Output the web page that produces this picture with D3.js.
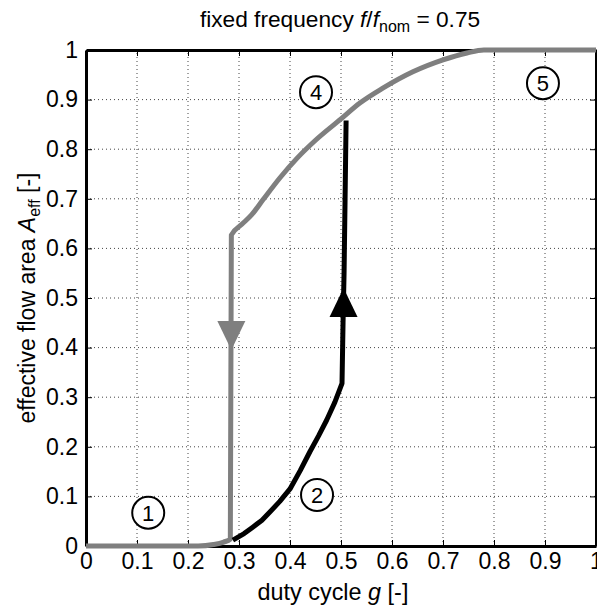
<!DOCTYPE html>
<html><head><meta charset="utf-8">
<script src="https://cdn.jsdelivr.net/npm/d3@7"></script>
<style>body{margin:0;background:#fff}svg{display:block}text{font-family:"Liberation Sans",Arial,sans-serif}</style>
</head><body>
<script>
const xTicks=[0,0.1,0.2,0.3,0.4,0.5,0.6,0.7,0.8,0.9,1];
const yTicks=[0,0.1,0.2,0.3,0.4,0.5,0.6,0.7,0.8,0.9,1];
const closingCurve=[[0,0],[0.22,0],[0.25,0.003],[0.27,0.008],[0.283,0.014],[0.285,0.627],[0.305,0.648],[0.325,0.668],[0.347,0.698],[0.38,0.742],[0.414,0.782],[0.45,0.818],[0.5,0.861],[0.537,0.893],[0.582,0.923],[0.641,0.956],[0.7,0.98],[0.747,0.994],[0.78,1],[1,1]];
const openingCurve=[[0.288,0.012],[0.31,0.025],[0.327,0.038],[0.345,0.052],[0.361,0.069],[0.38,0.09],[0.4,0.115],[0.42,0.152],[0.439,0.19],[0.456,0.222],[0.472,0.254],[0.488,0.29],[0.502,0.328],[0.504,0.45],[0.506,0.55],[0.508,0.7],[0.51,0.858]];
const regionLabels=[{t:"1",x:0.122,y:0.067},{t:"2",x:0.453,y:0.103},{t:"4",x:0.451,y:0.915},{t:"5",x:0.896,y:0.933}];
const arrowMarks=[{x:0.285,tip:0.395,dir:"down",c:"#7f7f7f"},{x:0.505,tip:0.52,dir:"up",c:"#000"}];

const W=597,H=607;
const svg=d3.select("body").append("svg").attr("width",W).attr("height",H);
const x=d3.scaleLinear().domain([0,1]).range([86,596]);
const y=d3.scaleLinear().domain([0,1]).range([546,50]);

// grid
const g=svg.append("g");
g.selectAll(".vg").data(xTicks.slice(1,-1)).enter().append("line")
 .attr("x1",d=>x(d)).attr("x2",d=>x(d)).attr("y1",y(0)).attr("y2",y(1))
 .attr("stroke","#444").attr("stroke-width",1).attr("stroke-dasharray","1,3");
g.selectAll(".hg").data(yTicks.slice(1,-1)).enter().append("line")
 .attr("y1",d=>y(d)).attr("y2",d=>y(d)).attr("x1",x(0)).attr("x2",x(1))
 .attr("stroke","#444").attr("stroke-width",1).attr("stroke-dasharray","1,3");

// axes
const fmt=d=>d===0?"0":d===1?"1":d3.format(".1f")(d);
const ax=svg.append("g").attr("transform",`translate(0,${y(0)})`)
 .call(d3.axisBottom(x).tickValues(xTicks).tickFormat(fmt).tickSizeInner(-6).tickSizeOuter(0).tickPadding(7));
const ay=svg.append("g").attr("transform",`translate(${x(0)},0)`)
 .call(d3.axisLeft(y).tickValues(yTicks).tickFormat(fmt).tickSizeInner(-6).tickSizeOuter(0).tickPadding(8));
const axt=svg.append("g").attr("transform",`translate(0,${y(1)})`)
 .call(d3.axisTop(x).tickValues(xTicks).tickFormat("").tickSizeInner(-6).tickSizeOuter(0));
const ayr=svg.append("g").attr("transform",`translate(${x(1)},0)`)
 .call(d3.axisRight(y).tickValues(yTicks).tickFormat("").tickSizeInner(-6).tickSizeOuter(0));
[ax,ay,axt,ayr].forEach(a=>{a.select(".domain").attr("stroke","#000").attr("stroke-width",3);
 a.selectAll(".tick line").attr("stroke","#000").attr("stroke-width",1);
 a.selectAll("text").attr("font-size",23).attr("fill","#000").style("font-family","'Liberation Sans',Arial,sans-serif");});

const lineS=d3.line().x(d=>x(d[0])).y(d=>y(d[1])).curve(d3.curveMonotoneX);
const line=d3.line().x(d=>x(d[0])).y(d=>y(d[1]));
svg.append("path").datum(closingCurve).attr("d",lineS).attr("fill","none").attr("stroke","#7f7f7f").attr("stroke-width",5).attr("stroke-linejoin","round");
svg.append("path").datum(openingCurve).attr("d",line).attr("fill","none").attr("stroke","#000").attr("stroke-width",5).attr("stroke-linejoin","round");

// arrows
arrowMarks.forEach(a=>{
 const cx=x(a.x),ty=y(a.tip),h=29,hw=14;
 const by=a.dir==="down"?ty-h:ty+h;
 svg.append("path").attr("d",`M${cx},${ty}L${cx-hw},${by}L${cx+hw},${by}Z`).attr("fill",a.c);
});

// region labels
const rl=svg.selectAll(".rl").data(regionLabels).enter().append("g").attr("transform",d=>`translate(${x(d.x)},${y(d.y)})`);
rl.append("circle").attr("r",16).attr("fill","#fff").attr("stroke","#000").attr("stroke-width",2);
rl.append("text").text(d=>d.t).attr("text-anchor","middle").attr("dy","0.36em").attr("font-size",22);

// title
const title=svg.append("text").attr("x",340).attr("y",27).attr("text-anchor","middle").attr("font-size",22.7);
title.append("tspan").text("fixed frequency ");
title.append("tspan").text("f").attr("font-style","italic");
title.append("tspan").text("/");
title.append("tspan").text("f").attr("font-style","italic");
title.append("tspan").text("nom").attr("font-size",16).attr("dy",5);
title.append("tspan").text(" = 0.75").attr("dy",-5);

// x label
const xl=svg.append("text").attr("x",333).attr("y",600).attr("text-anchor","middle").attr("font-size",23.4);
xl.append("tspan").text("duty cycle ");
xl.append("tspan").text("g").attr("font-style","italic");
xl.append("tspan").text(" [-]");

// y label
const yl=svg.append("text").attr("transform","translate(35,298) rotate(-90)").attr("text-anchor","middle").attr("font-size",23);
yl.append("tspan").text("effective flow area ");
yl.append("tspan").text("A").attr("font-style","italic");
yl.append("tspan").text("eff").attr("font-size",16).attr("dy",5);
yl.append("tspan").text(" [-]").attr("dy",-5);
</script>
</body></html>
